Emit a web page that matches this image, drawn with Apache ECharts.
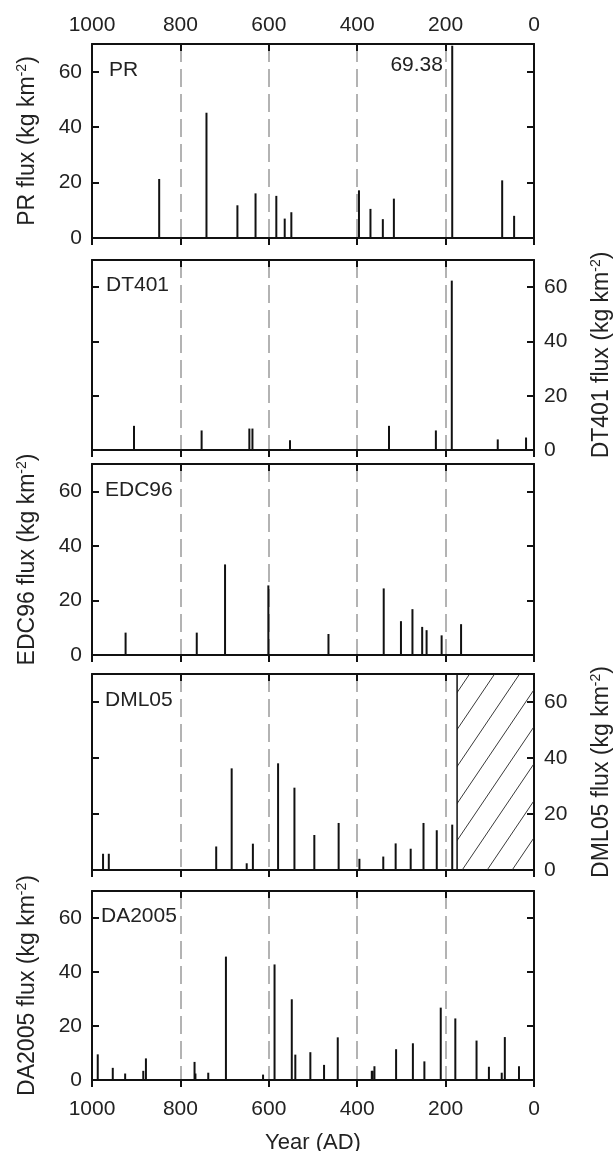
<!DOCTYPE html>
<html><head><meta charset="utf-8">
<script src="https://cdn.jsdelivr.net/npm/echarts@6/dist/echarts.min.js"></script>
<style>html,body{margin:0;padding:0;background:#fff}#c{width:615px;height:1151px}</style>
</head><body><div id="c"></div>
<script>
// ---- data ----
const yearTicks = [1000, 800, 600, 400, 200, 0];
const fluxTicks = [0, 20, 40, 60];
const panelNames = ['PR', 'DT401', 'EDC96', 'DML05', 'DA2005'];

const prYears = [848, 741, 671, 630, 583, 564, 549, 396, 370, 342, 317, 185, 72, 45];
const prFlux  = [21.3, 45.2, 11.8, 16.1, 15.2, 7.0, 9.3, 17.2, 10.5, 6.8, 14.2, 69.38, 20.8, 8.0];

const dtYears = [905, 752, 644, 637, 552, 328, 222, 186, 82, 18];
const dtFlux  = [8.9, 7.2, 7.9, 7.9, 3.6, 8.9, 7.2, 62.4, 3.9, 4.6];

const edcYears = [924, 763, 699, 601, 465, 340, 301, 275, 253, 243, 209, 165];
const edcFlux  = [8.2, 8.2, 33.2, 25.5, 7.7, 24.4, 12.4, 16.8, 10.3, 9.1, 7.2, 11.3];

const dmlYears = [975, 962, 719, 684, 650, 636, 579, 542, 497, 442, 395, 341, 313, 279, 250, 220, 185];
const dmlFlux  = [5.8, 5.8, 8.4, 36.3, 2.4, 9.4, 38.1, 29.4, 12.5, 16.8, 4.0, 4.8, 9.5, 7.6, 16.8, 14.2, 16.2];
const dmlGapStart = 174;   // no-data (hatched) interval: 174 AD to 0
const dmlGapEnd = 0;

const daYears = [987, 953, 925, 884, 878, 768, 766, 737, 697, 613, 587, 548, 540, 506, 475, 444, 367, 365, 361, 312, 274, 248, 211, 178, 130, 102, 73, 66, 34];
const daFlux  = [9.5, 4.5, 2.4, 3.4, 8.0, 6.7, 2.4, 2.7, 45.7, 2.0, 42.8, 29.9, 9.4, 10.3, 5.6, 15.8, 3.4, 3.4, 5.1, 11.4, 13.6, 6.9, 26.8, 22.8, 14.6, 4.9, 2.7, 15.9, 5.1];

const prPeakLabel = '69.38';
const prPeakLabelAt = [206, 62.3];

// ---- layout / style ----
const FONT = "'Liberation Sans', Arial, sans-serif";
const TXT = '#222';
const panels = [
  {years: prYears,  flux: prFlux,  top: 44,  height: 194, side: 'left',  labelX: 109},
  {years: dtYears,  flux: dtFlux,  top: 260, height: 190, side: 'right', labelX: 106},
  {years: edcYears, flux: edcFlux, top: 464, height: 191, side: 'left',  labelX: 105},
  {years: dmlYears, flux: dmlFlux, top: 674, height: 196, side: 'right', labelX: 105},
  {years: daYears,  flux: daFlux,  top: 891, height: 189, side: 'left',  labelX: 101}
];
const LEFT = 92, WIDTH = 442;

function hatchPattern() {
  const w = 25, h = 37;
  const c = document.createElement('canvas');
  c.width = w; c.height = h;
  const g = c.getContext('2d');
  g.strokeStyle = '#3a3a3a'; g.lineWidth = 1;
  g.beginPath();
  for (const o of [-w, 0, w]) { g.moveTo(o, h); g.lineTo(o + w, 0); }
  g.stroke();
  return c;
}

function spikeRender(params, api) {
  const base = api.coord([api.value(0), 0]);
  const tip = api.coord([api.value(0), api.value(1)]);
  return {
    type: 'line',
    shape: {x1: base[0], y1: base[1], x2: tip[0], y2: tip[1]},
    style: {stroke: '#111', lineWidth: 2}
  };
}

const grid = [], xAxis = [], yAxis = [], series = [], graphic = [];
const axisLine = {show: true, onZero: false, lineStyle: {color: '#111', width: 2}};
const numFmt = v => String(v);

panels.forEach((p, i) => {
  grid.push({left: LEFT, top: p.top, width: WIDTH, height: p.height,
             containLabel: false, outerBoundsMode: 'none'});
  // bottom x axis
  xAxis.push({
    type: 'value', gridIndex: i, min: 0, max: 1000, interval: 200, inverse: true, position: 'bottom',
    axisLine, axisTick: {show: true, inside: false, length: 7, lineStyle: {color: '#111', width: 2}},
    axisLabel: {show: i === 4, fontSize: 21, color: TXT, fontFamily: FONT, margin: 19, formatter: numFmt},
    splitLine: {show: true, lineStyle: {color: '#b3b3b3', width: 2, type: [18, 7]}},
    name: i === 4 ? 'Year (AD)' : '', nameLocation: 'middle', nameGap: 52,
    nameTextStyle: {fontSize: 22, color: TXT, fontFamily: FONT}
  });
  // top x axis
  xAxis.push({
    type: 'value', gridIndex: i, min: 0, max: 1000, interval: 200, inverse: true, position: 'top',
    axisLine, axisTick: {show: true, inside: true, length: 7, lineStyle: {color: '#111', width: 2}},
    axisLabel: {show: i === 0, fontSize: 21, color: TXT, fontFamily: FONT, margin: 8, formatter: numFmt},
    splitLine: {show: false}
  });
  const nm = panelNames[i];
  const other = p.side === 'left' ? 'right' : 'left';
  yAxis.push({
    type: 'value', gridIndex: i, min: 0, max: 70, interval: 20, position: p.side,
    axisLine, axisTick: {show: true, inside: true, length: 7, lineStyle: {color: '#111', width: 2}},
    axisLabel: {show: true, showMaxLabel: false, fontSize: 21, color: TXT, fontFamily: FONT, margin: 10},
    splitLine: {show: false},
    name: '{a|' + nm + ' flux (kg km}{s|-2}{a|)}', nameLocation: 'middle', nameRotate: 90,
    nameGap: p.side === 'left' ? 52 : 55,
    nameTextStyle: {rich: {
      a: {fontSize: 23, lineHeight: 25, color: TXT, fontFamily: FONT},
      s: {fontSize: 14, lineHeight: 14, verticalAlign: 'top', color: TXT, fontFamily: FONT}
    }}
  });
  yAxis.push({
    type: 'value', gridIndex: i, min: 0, max: 70, interval: 20, position: other,
    axisLine, axisTick: {show: true, inside: true, length: 7, lineStyle: {color: '#111', width: 2}},
    axisLabel: {show: false}, splitLine: {show: false}
  });
  const s = {
    type: 'custom', xAxisIndex: 2 * i, yAxisIndex: 2 * i,
    renderItem: spikeRender, encode: {x: 0, y: 1},
    data: p.years.map((y, k) => [y, p.flux[k]]),
    silent: true, animation: false, z: 3, clip: true
  };
  if (i === 0) {
    s.markPoint = {
      symbol: 'circle', symbolSize: 0, silent: true, animation: false,
      data: [{coord: prPeakLabelAt, value: prPeakLabel}],
      label: {show: true, position: 'left', distance: 0, formatter: prPeakLabel,
              fontSize: 21, color: TXT, fontFamily: FONT}
    };
  }
  if (i === 3) {
    s.markArea = {
      silent: true, animation: false,
      itemStyle: {color: {image: hatchPattern(), repeat: 'repeat'}, borderColor: '#111', borderWidth: 1.5},
      data: [[{xAxis: dmlGapStart, yAxis: 0}, {xAxis: dmlGapEnd, yAxis: 70}]]
    };
  }
  series.push(s);
  graphic.push({
    type: 'text', left: p.labelX, top: p.top + p.height * (10 / 70) - 12,
    style: {text: nm, fontSize: 21, fill: TXT, fontFamily: FONT}
  });
});

const chart = echarts.init(document.getElementById('c'), null, {renderer: 'canvas'});
chart.setOption({
  backgroundColor: '#fff', animation: false,
  grid, xAxis, yAxis, series, graphic
});
</script></body></html>
